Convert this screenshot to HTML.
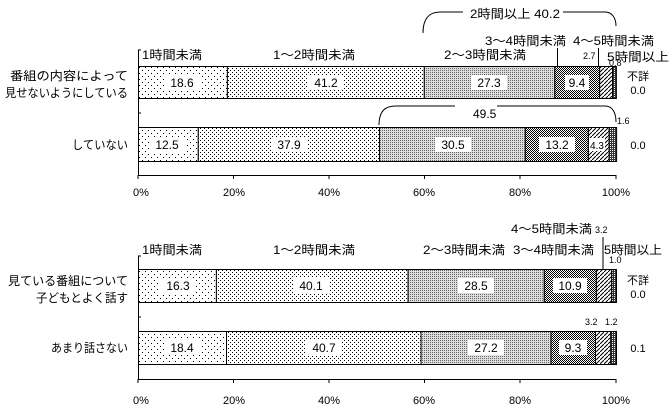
<!DOCTYPE html><html><head><meta charset="utf-8"><style>body{margin:0;background:#fff}svg{display:block}text{font-family:"Liberation Sans","Noto Sans CJK JP",sans-serif;font-size:11px;fill:#000}</style></head><body>
<svg width="670" height="410" viewBox="0 0 670 410" xmlns="http://www.w3.org/2000/svg">
<defs>
<pattern id="p1" width="6" height="6" patternUnits="userSpaceOnUse"><rect width="6" height="6" fill="#fff"/><rect x="1" y="1" width="1" height="1" fill="#000"/><rect x="4" y="4" width="1" height="1" fill="#000"/></pattern>
<pattern id="p2" width="4" height="4" patternUnits="userSpaceOnUse"><rect width="4" height="4" fill="#fff"/><rect x="0" y="0" width="1" height="1" fill="#000"/><rect x="2" y="2" width="1" height="1" fill="#000"/></pattern>
<pattern id="p3" width="2" height="2" patternUnits="userSpaceOnUse"><rect width="2" height="2" fill="#ddd"/><rect x="0" y="0" width="1" height="1" fill="#666"/></pattern>
<pattern id="p4" width="2" height="2" patternUnits="userSpaceOnUse"><rect width="2" height="2" fill="#fff"/><rect x="0" y="0" width="1" height="1" fill="#000"/><rect x="1" y="1" width="1" height="1" fill="#000"/></pattern>
<pattern id="p5" width="4" height="4" patternUnits="userSpaceOnUse"><rect width="4" height="4" fill="#fff"/><path d="M0,4 L4,0" stroke="#000" stroke-width="1"/></pattern>
<pattern id="p6" width="2" height="2" patternUnits="userSpaceOnUse"><rect width="2" height="2" fill="#333"/><rect x="0" y="0" width="1" height="1" fill="#fff"/></pattern>
</defs>
<g stroke="#000" fill="none">
<path d="M138.5,50 V175.5 H616 M138.5,256 V379.5 H616"/>
<path d="M138,175 v4 M233.5,175 v4 M329,175 v4 M424.5,175 v4 M520,175 v4 M616,175 v4"/>
<path d="M138,379 v4 M233.5,379 v4 M329,379 v4 M424.5,379 v4 M520,379 v4 M616,379 v4"/>
<path d="M138,113 h3 M138,317 h3 M138,50 h3 M138,256 h3"/>
</g>
<g stroke="#000" stroke-width="1">
<rect x="138.5" y="66.5" width="88.9" height="32" fill="url(#p1)"/>
<rect x="227.4" y="66.5" width="196.9" height="32" fill="url(#p2)"/>
<rect x="424.3" y="66.5" width="130.5" height="32" fill="url(#p3)"/>
<rect x="554.8" y="66.5" width="44.9" height="32" fill="url(#p4)"/>
<rect x="599.7" y="66.5" width="12.9" height="32" fill="url(#p5)"/>
<rect x="612.6" y="66.5" width="3.8" height="32" fill="url(#p6)"/>
<rect x="138.5" y="127.5" width="59.8" height="34" fill="url(#p1)"/>
<rect x="198.3" y="127.5" width="181.2" height="34" fill="url(#p2)"/>
<rect x="379.5" y="127.5" width="145.8" height="34" fill="url(#p3)"/>
<rect x="525.3" y="127.5" width="63.1" height="34" fill="url(#p4)"/>
<rect x="588.4" y="127.5" width="20.6" height="34" fill="url(#p5)"/>
<rect x="609" y="127.5" width="7.6" height="34" fill="url(#p6)"/>
<rect x="138.5" y="269.5" width="77.9" height="33" fill="url(#p1)"/>
<rect x="216.4" y="269.5" width="191.7" height="33" fill="url(#p2)"/>
<rect x="408.1" y="269.5" width="136.2" height="33" fill="url(#p3)"/>
<rect x="544.3" y="269.5" width="52.1" height="33" fill="url(#p4)"/>
<rect x="596.4" y="269.5" width="15.3" height="33" fill="url(#p5)"/>
<rect x="611.7" y="269.5" width="4.8" height="33" fill="url(#p6)"/>
<rect x="138.5" y="331.5" width="88" height="33" fill="url(#p1)"/>
<rect x="226.5" y="331.5" width="194.5" height="33" fill="url(#p2)"/>
<rect x="421" y="331.5" width="130" height="33" fill="url(#p3)"/>
<rect x="551" y="331.5" width="44.5" height="33" fill="url(#p4)"/>
<rect x="595.5" y="331.5" width="15.3" height="33" fill="url(#p5)"/>
<rect x="610.8" y="331.5" width="5.7" height="33" fill="url(#p6)"/>
</g>
<g fill="#fff">
<rect x="164" y="75" width="36" height="15"/><rect x="308" y="75" width="36" height="15"/><rect x="471" y="75" width="36" height="15"/><rect x="565" y="75" width="24" height="15"/>
<rect x="149" y="137" width="36" height="15"/><rect x="271" y="137" width="36" height="15"/><rect x="435" y="137" width="36" height="15"/><rect x="539" y="137" width="36" height="15"/><rect x="589" y="138" width="16" height="13"/>
<rect x="160" y="278" width="36" height="15"/><rect x="293" y="278" width="36" height="15"/><rect x="458" y="278" width="36" height="15"/><rect x="553" y="278" width="34" height="15"/>
<rect x="164" y="340" width="36" height="15"/><rect x="306" y="340" width="36" height="15"/><rect x="468" y="340" width="36" height="15"/><rect x="559" y="340" width="28" height="15"/>
</g>
<g text-anchor="middle">
<text x="182" y="87" style="font-size:12px">18.6</text><text x="326" y="87" style="font-size:12px">41.2</text><text x="489" y="87" style="font-size:12px">27.3</text><text x="577" y="87" style="font-size:12px">9.4</text>
<text x="167" y="149" style="font-size:12px">12.5</text><text x="289" y="149" style="font-size:12px">37.9</text><text x="453" y="149" style="font-size:12px">30.5</text><text x="557" y="149" style="font-size:12px">13.2</text><text x="597" y="149" style="font-size:10px">4.3</text>
<text x="178" y="290" style="font-size:12px">16.3</text><text x="311" y="290" style="font-size:12px">40.1</text><text x="476" y="290" style="font-size:12px">28.5</text><text x="570" y="290" style="font-size:12px">10.9</text>
<text x="182" y="352" style="font-size:12px">18.4</text><text x="324" y="352" style="font-size:12px">40.7</text><text x="486" y="352" style="font-size:12px">27.2</text><text x="573" y="352" style="font-size:12px">9.3</text>
</g>
<g text-anchor="middle">
<text x="141" y="196">0%</text><text x="234" y="196">20%</text><text x="329" y="196">40%</text><text x="424" y="196">60%</text><text x="520" y="196">80%</text><text x="616" y="196">100%</text>
<text x="141" y="404">0%</text><text x="234" y="404">20%</text><text x="329" y="404">40%</text><text x="424" y="404">60%</text><text x="520" y="404">80%</text><text x="616" y="404">100%</text>
<text x="638" y="80">不詳</text><text x="638" y="94">0.0</text><text x="638" y="149">0.0</text>
<text x="638" y="284">不詳</text><text x="638" y="298">0.0</text><text x="638" y="352">0.1</text>
</g>
<g style="font-size:12px">
<text x="10" y="80" style="font-size:12px" textLength="118" lengthAdjust="spacingAndGlyphs">番組の内容によって</text>
<text x="5" y="97" style="font-size:12px" textLength="123" lengthAdjust="spacingAndGlyphs">見せないようにしている</text>
<text x="72" y="149" style="font-size:12px" textLength="56" lengthAdjust="spacingAndGlyphs">していない</text>
<text x="8" y="285" style="font-size:12px" textLength="120" lengthAdjust="spacingAndGlyphs">見ている番組について</text>
<text x="36" y="302" style="font-size:12px" textLength="92" lengthAdjust="spacingAndGlyphs">子どもとよく話す</text>
<text x="51" y="352" style="font-size:12px" textLength="77" lengthAdjust="spacingAndGlyphs">あまり話さない</text>
</g>
<g style="font-size:12px">
<text x="142" y="59" style="font-size:12px" textLength="60" lengthAdjust="spacingAndGlyphs">1時間未満</text>
<text x="273" y="59" style="font-size:12px" textLength="82" lengthAdjust="spacingAndGlyphs">1～2時間未満</text>
<text x="444" y="59" style="font-size:12px" textLength="82" lengthAdjust="spacingAndGlyphs">2～3時間未満</text>
<text x="485" y="45" style="font-size:12px" textLength="81" lengthAdjust="spacingAndGlyphs">3～4時間未満</text>
<text x="573" y="45" style="font-size:12px" textLength="81" lengthAdjust="spacingAndGlyphs">4～5時間未満</text>
<text x="607" y="61" style="font-size:12px" textLength="62" lengthAdjust="spacingAndGlyphs">5時間以上</text>
<text x="470" y="18" style="font-size:12px" textLength="90" lengthAdjust="spacingAndGlyphs">2時間以上 40.2</text>
<text x="473" y="118" style="font-size:12px">49.5</text>
<text x="142" y="254" style="font-size:12px" textLength="60" lengthAdjust="spacingAndGlyphs">1時間未満</text>
<text x="273" y="254" style="font-size:12px" textLength="82" lengthAdjust="spacingAndGlyphs">1～2時間未満</text>
<text x="423" y="254" style="font-size:12px" textLength="82" lengthAdjust="spacingAndGlyphs">2～3時間未満</text>
<text x="513" y="254" style="font-size:12px" textLength="81" lengthAdjust="spacingAndGlyphs">3～4時間未満</text>
<text x="511" y="233" style="font-size:12px" textLength="81" lengthAdjust="spacingAndGlyphs">4～5時間未満</text>
<text x="595" y="233" style="font-size:9px">3.2</text>
<text x="604" y="254" style="font-size:12px" textLength="58" lengthAdjust="spacingAndGlyphs">5時間以上</text>
</g>
<g style="font-size:9px">
<text x="583" y="59" style="font-size:9px">2.7</text><text x="609" y="66" style="font-size:9px">0.8</text>
<text x="617" y="124" style="font-size:9px">1.6</text>
<text x="609" y="263" style="font-size:9px">1.0</text>
<text x="585" y="325" style="font-size:9px">3.2</text><text x="605" y="325" style="font-size:9px">1.2</text>
</g>
<g stroke="#000" fill="none">
<path d="M423,33 C423,18 430,12 440,12 H463 M563,12 H605 C612,12 616,18 616,26"/>
<path d="M379,125 C379,110 386,106 396,106 H455 M497,106 H605 C612,106 616,112 616,122"/>
<path d="M557.5,48 V66 M598.5,48 V66 M603,237 V269"/>
</g>
</svg>
</body></html>
